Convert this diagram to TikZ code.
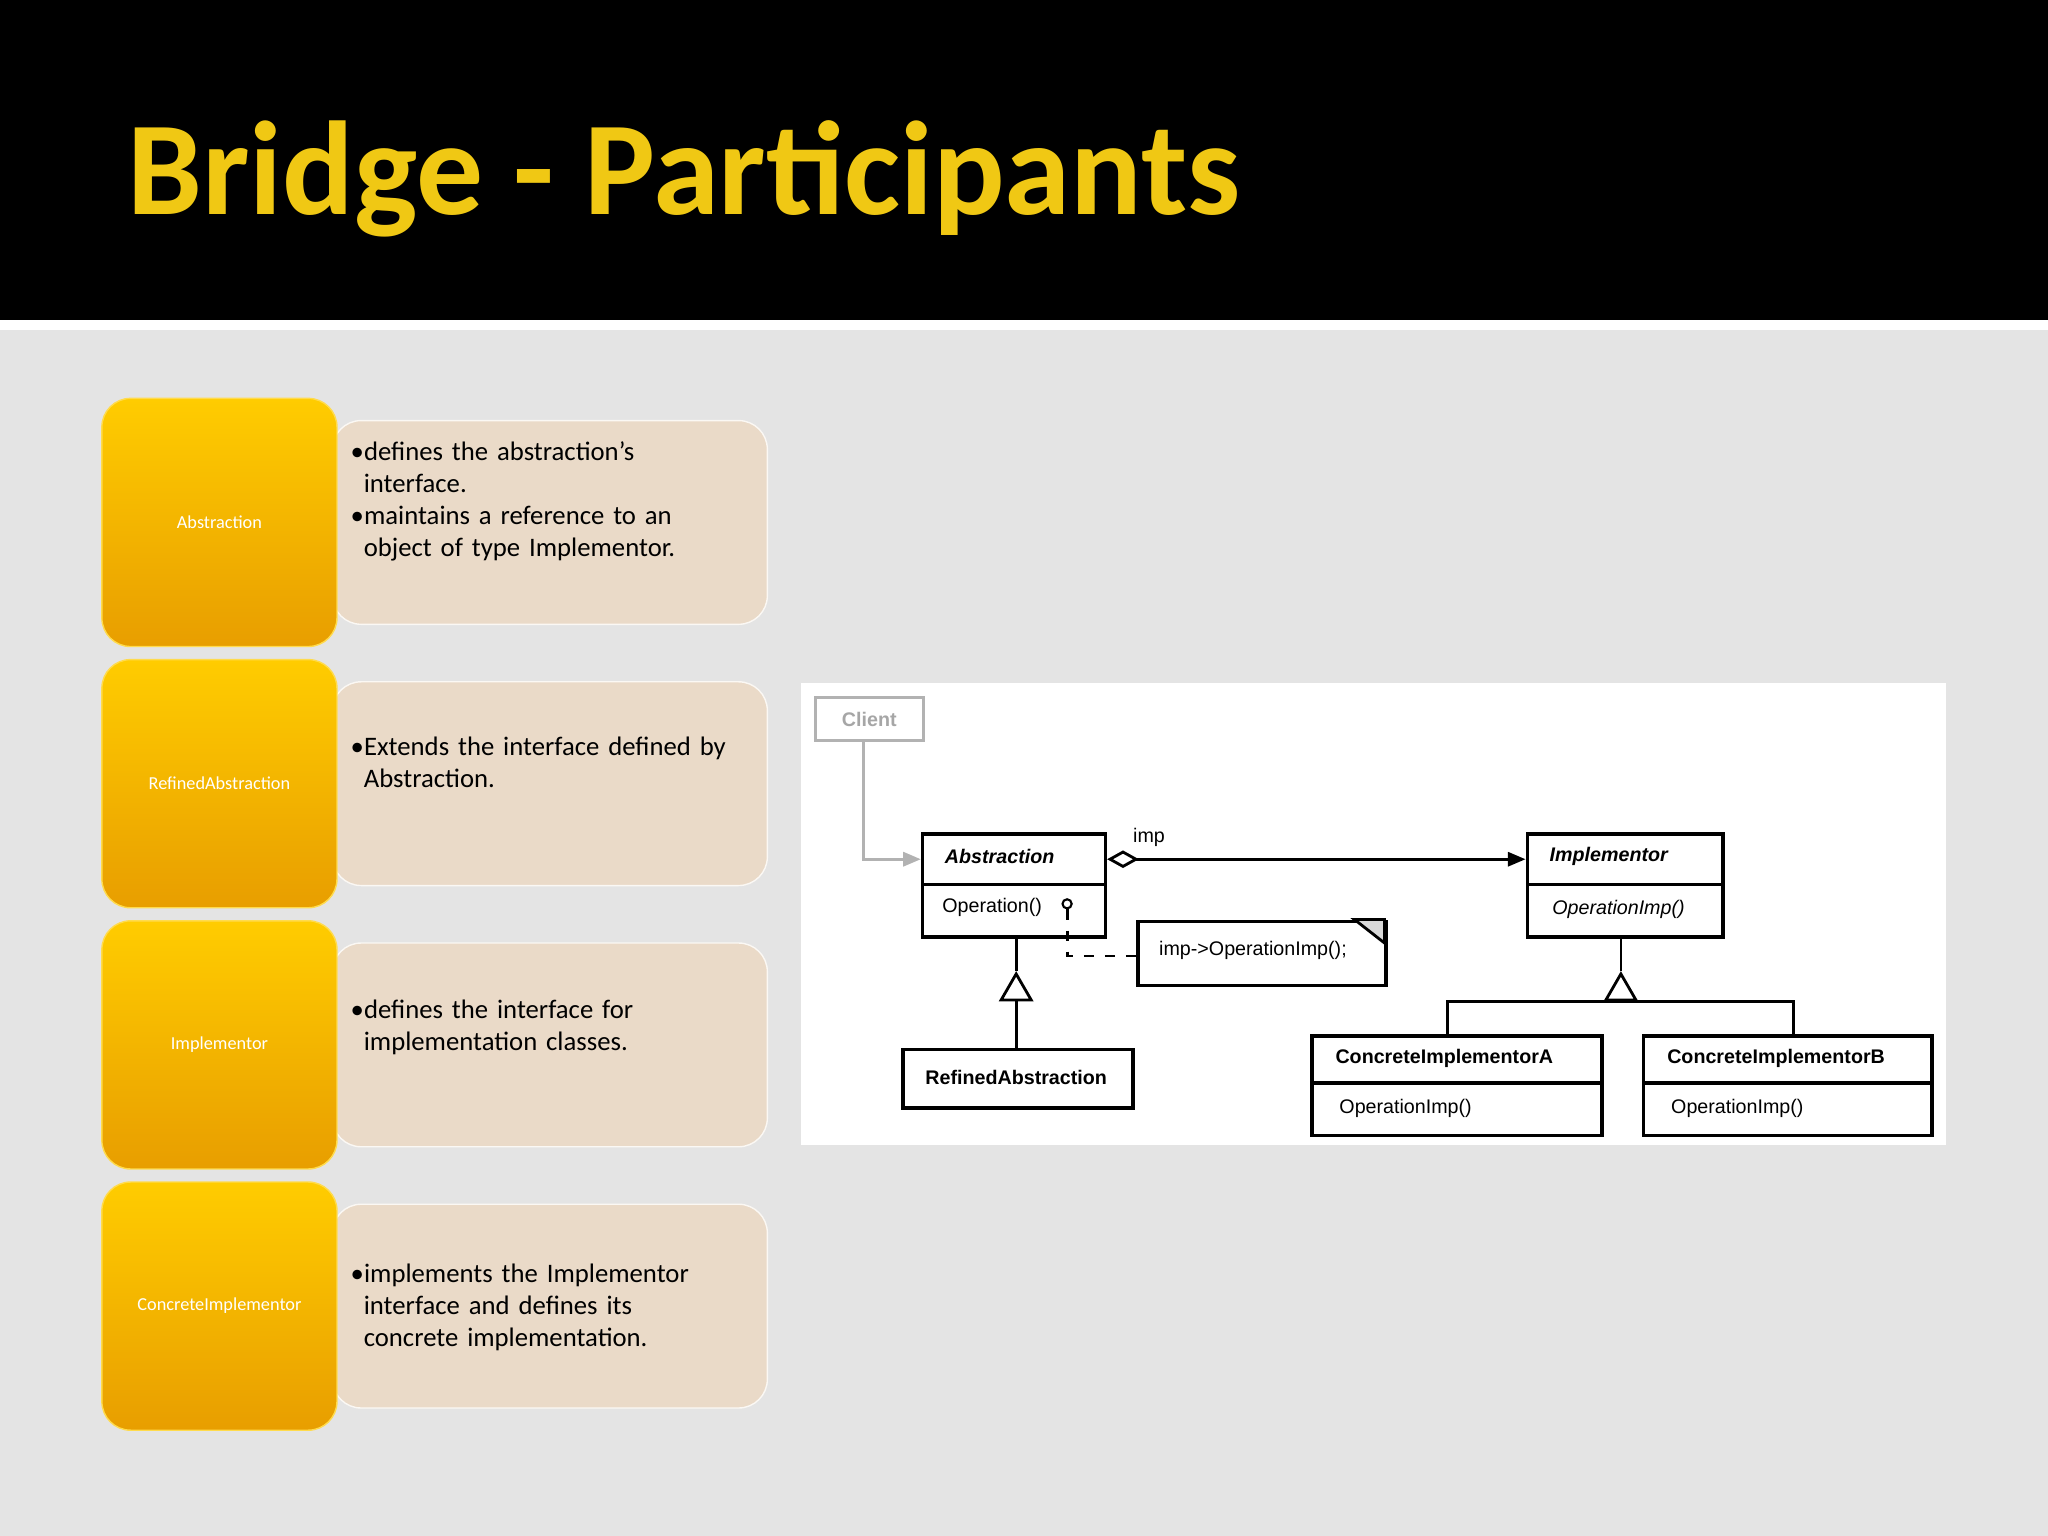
\documentclass[tikz,border=0pt]{standalone}
\usepackage{fontspec}
\setmainfont{Carlito}
\newfontfamily\umlfont{Liberation Sans}
\usetikzlibrary{arrows.meta,shapes.geometric}
\newlength\pu
\setlength\pu{0.01306cm}
\definecolor{titleyellow}{RGB}{240,200,20}
\definecolor{goldtop}{RGB}{255,204,0}
\definecolor{goldbottom}{RGB}{232,158,0}
\definecolor{sand}{RGB}{234,218,200}
\definecolor{slidegray}{RGB}{228,228,228}
\tikzset{
  role/.style={rectangle, rounded corners=22\pu, top color=goldtop, bottom color=goldbottom,
    draw=goldtop!70!white, minimum width=180\pu, minimum height=190\pu,
    text=white, font=\fontsize{5.2}{6}\selectfont},
  note/.style={rectangle, rounded corners=22\pu, fill=sand, draw=white!80!sand,
    minimum width=333\pu, minimum height=156\pu},
  duty/.style={anchor=north west, text width=310\pu, align=left,
    font=\fontsize{7.6}{9.1}\selectfont, inner sep=0pt},
  cls/.style={rectangle, draw, line width=1pt, anchor=north west, inner sep=0pt,
    font=\umlfont\fontsize{5.6}{6}\selectfont},
  clsname/.style={font=\umlfont\bfseries\fontsize{5.6}{6}\selectfont},
  clsop/.style={font=\umlfont\fontsize{5.6}{6}\selectfont},
  inherit/.style={draw, isosceles triangle, shape border rotate=90, isosceles triangle apex angle=60,
    minimum width=22\pu, minimum height=20\pu, inner sep=0pt, fill=white, line width=0.8pt}
}
\begin{document}
\begin{tikzpicture}[x=\pu, y=-\pu]
\useasboundingbox (0,0) rectangle (1568,1176);
% background and header
\fill[slidegray] (0,0) rectangle (1568,1176);
\fill[black] (0,0) rectangle (1568,245);
\fill[white] (0,245) rectangle (1568,253);
\node[anchor=west, text=titleyellow, font=\bfseries\fontsize{38}{40}\selectfont] (title) at (88,137) {Bridge - Participants};

% participants
\foreach \name/\y in {Abstraction/400, RefinedAbstraction/600, Implementor/800, ConcreteImplementor/1000} {
  \node[note] (n\name) at (421,\y) {};
  \node[role] (r\name) at (168,\y) {\name};
}
\node[duty] (dAbs) at (268,338) {\textbullet defines the abstraction's\\\hspace*{10\pu}interface.\\\textbullet maintains a reference to an\\\hspace*{10\pu}object of type Implementor.};
\node[duty] (dRef) at (268,564) {\textbullet Extends the interface defined by\\\hspace*{10\pu}Abstraction.};
\node[duty] (dImp) at (268,765) {\textbullet defines the interface for\\\hspace*{10\pu}implementation classes.};
\node[duty] (dCon) at (268,967) {\textbullet implements the Implementor\\\hspace*{10\pu}interface and defines its\\\hspace*{10\pu}concrete implementation.};

% class diagram
\fill[white] (613,523) rectangle (1490,877);
\node[draw=black!30, line width=0.8pt, minimum width=83\pu, minimum height=33\pu, anchor=north west,
  text=black!35, font=\umlfont\bfseries\fontsize{5.6}{6}\selectfont] (client) at (623,533) {Client};

\node[cls, minimum width=140\pu, minimum height=39\pu] (absH) at (705,637) {};
\node[cls, minimum width=140\pu, minimum height=40\pu] (absB) at (705,676) {};
\node[clsname, anchor=west] at (714,656) {\itshape Abstraction};
\node[clsop, anchor=west] at (712,695) {Operation()};
\node[circle, draw, inner sep=0pt, minimum size=7\pu, line width=0.6pt] (opdot) at (817,692) {};

\node[cls, minimum width=150\pu, minimum height=39\pu] (impH) at (1168,637) {};
\node[cls, minimum width=150\pu, minimum height=40\pu] (impB) at (1168,676) {};
\node[clsname, anchor=west] at (1177,656) {\itshape Implementor};
\node[clsop, anchor=west] at (1179,696) {\itshape OperationImp()};

\node[cls, minimum width=190\pu, minimum height=49\pu] (code) at (870,704) {};
\node[clsop, anchor=west] at (878,728) {imp->OperationImp();};
\draw[line width=0.8pt, fill=black!15] (1037,704) -- (1060,704) -- (1060,722) -- cycle;

\node[cls, minimum width=176\pu, minimum height=45\pu] (refined) at (690,802) {};
\node[clsname] at (778,825) {RefinedAbstraction};

\node[cls, minimum width=222\pu, minimum height=36\pu] (caH) at (1003,792) {};
\node[cls, minimum width=222\pu, minimum height=40\pu] (caB) at (1003,828) {};
\node[clsname, anchor=west] at (1013,810) {ConcreteImplementorA};
\node[clsop, anchor=west] at (1016,849) {OperationImp()};
\node[cls, minimum width=221\pu, minimum height=36\pu] (cbH) at (1257,792) {};
\node[cls, minimum width=221\pu, minimum height=40\pu] (cbB) at (1257,828) {};
\node[clsname, anchor=west] at (1267,810) {ConcreteImplementorB};
\node[clsop, anchor=west] at (1270,849) {OperationImp()};

% connectors
\draw[black!30, line width=0.8pt, -{Triangle[length=5pt,width=4pt]}] (client.south -| 661,0) |- (absH.west);
\draw[line width=0.8pt, {Diamond[open,length=9pt,width=5pt]}-{Triangle[length=5pt,width=4pt]}] (absH.east) -- (impH.west)
  node[pos=0.1, above, clsop] {imp};
\draw[dashed, line width=0.8pt] (opdot.south) |- (code.west |- 0,732);
\node[inherit] (triA) at (778,759) {};
\draw[line width=0.8pt] (absB.south -| triA) -- (triA.apex);
\draw[line width=0.8pt] (triA.south) -- (refined.north -| triA);
\node[inherit] (triI) at (1241,759) {};
\draw[line width=0.8pt] (impB.south -| triI) -- (triI.apex);
\draw[line width=0.8pt] (caH.north -| 1108,0) |- (triI.south) -| (cbH.north -| 1373,0);
\end{tikzpicture}
\end{document}
